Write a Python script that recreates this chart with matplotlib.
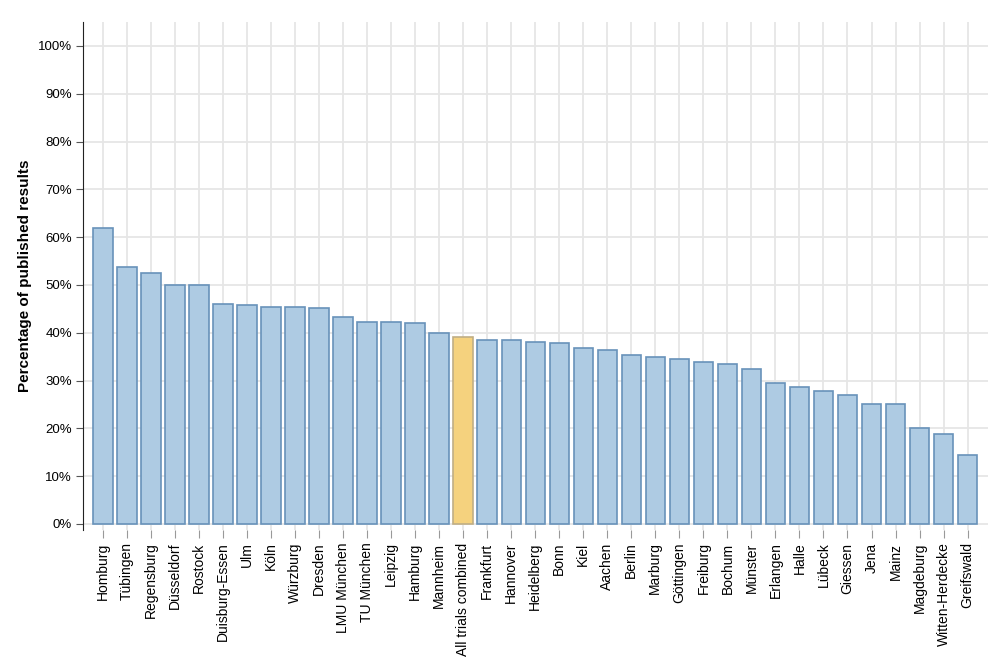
import numpy as np
import matplotlib.pyplot as plt
from matplotlib.ticker import FuncFormatter

sites = ['Homburg', 'Tübingen', 'Regensburg', 'Düsseldorf', 'Rostock', 'Duisburg-Essen',
         'Ulm', 'Köln', 'Würzburg', 'Dresden', 'LMU München', 'TU München', 'Leipzig',
         'Hamburg', 'Mannheim', 'All trials combined', 'Frankfurt', 'Hannover', 'Heidelberg',
         'Bonn', 'Kiel', 'Aachen', 'Berlin', 'Marburg', 'Göttingen', 'Freiburg', 'Bochum',
         'Münster', 'Erlangen', 'Halle', 'Lübeck', 'Giessen', 'Jena', 'Mainz', 'Magdeburg',
         'Witten-Herdecke', 'Greifswald']
published = [61.9, 53.8, 52.5, 50.0, 50.0, 46.0, 45.8, 45.4, 45.4, 45.2, 43.3, 42.3, 42.3,
             42.1, 40.0, 39.1, 38.5, 38.5, 38.1, 37.9, 36.8, 36.4, 35.4, 34.9, 34.5, 33.9,
             33.5, 32.4, 29.5, 28.7, 27.8, 27.0, 25.1, 25.1, 20.1, 18.8, 14.4]
highlight = 'All trials combined'

plt.rcParams['font.family'] = ['Liberation Sans', 'DejaVu Sans']

fig = plt.figure(figsize=(9.88, 6.64), dpi=100)
ax = fig.add_axes([83 / 988, 1 - 530 / 664, 1 - 83 / 988, (530 - 22) / 664])

x = np.arange(len(sites))
face = ['#f5d27e' if s == highlight else '#aecbe3' for s in sites]
edge = ['#c0ae85' if s == highlight else '#6892ba' for s in sites]
ax.bar(x, published, width=0.81, color=face, edgecolor=edge, linewidth=1.2, zorder=3)

ax.set_xlim(-0.83, len(sites) - 1 + 0.85)
ax.set_ylim(-1.26, 105)
ax.set_yticks(np.arange(0, 101, 10))
ax.yaxis.set_major_formatter(FuncFormatter(lambda v, p: f'{v:.0f}%'))
ax.set_xticks(x)
ax.set_xticklabels(sites, rotation=90, fontsize=10)
ax.tick_params(axis='y', labelsize=9.5, length=5, color='#555555', pad=3)
ax.tick_params(axis='x', length=6, color='#999999', pad=3)

ax.grid(True, color='#e6e6e6', linewidth=1.3, zorder=0)
for side in ['top', 'right', 'bottom']:
    ax.spines[side].set_visible(False)
ax.spines['left'].set_color('#222222')

ax.set_ylabel('Percentage of published results', fontsize=11, fontweight='bold')
ax.yaxis.set_label_coords(-51 / 905, 0.5)

fig.savefig('out.png', dpi=100)
